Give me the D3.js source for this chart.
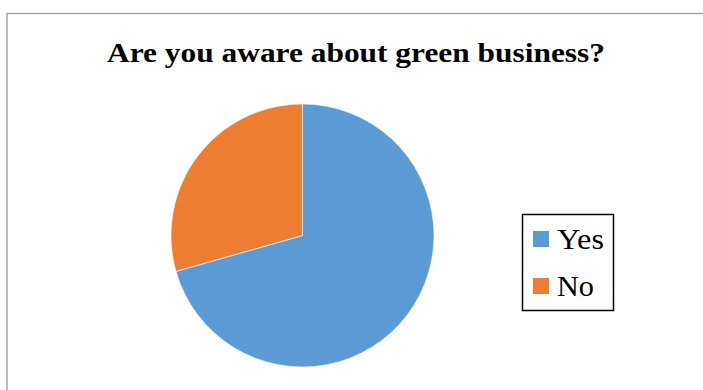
<!DOCTYPE html>
<html><head><meta charset="utf-8">
<script src="https://cdn.jsdelivr.net/npm/d3@7"></script>
<style>html,body{margin:0;padding:0;background:#fff;overflow:hidden}</style>
</head><body>
<svg id="c" width="703" height="390"></svg>
<script>
const categories = ["Yes", "No"];
const values = [70.6, 29.4];
const colors = ["#5B9BD5", "#ED7D31"];
const title = "Are you aware about green business?";

const svg = d3.select("#c");
// chart frame
svg.append("rect").attr("x", 7).attr("y", 13.5).attr("width", 710).attr("height", 400)
  .attr("fill", "#fff").attr("stroke", "#a6a6a6").attr("stroke-width", 1.5);

svg.append("text").attr("x", 107).attr("y", 62)
  .attr("font-family", "'Liberation Serif', 'Times New Roman', serif")
  .attr("font-weight", "bold").attr("font-size", 27).attr("fill", "#000")
  .attr("textLength", 498).attr("lengthAdjust", "spacingAndGlyphs")
  .text(title);

const data = categories.map((c, i) => ({cat: c, val: values[i], col: colors[i]}));
const pie = d3.pie().value(d => d.val).sort(null);
const arc = d3.arc().innerRadius(0).outerRadius(131.5);
const g = svg.append("g").attr("transform", "translate(302.5,235.5)");
g.selectAll("path").data(pie(data)).join("path")
  .attr("d", arc).attr("fill", d => d.data.col)
  .attr("stroke", "#fff").attr("stroke-width", 0.6);

// legend
const lg = svg.append("g");
lg.append("rect").attr("x", 522.5).attr("y", 214.5).attr("width", 91).attr("height", 96)
  .attr("fill", "#fff").attr("stroke", "#000").attr("stroke-width", 1.5);
const items = lg.selectAll("g.it").data(data).join("g").attr("class", "it")
  .attr("transform", (d, i) => `translate(0,${i * 47})`);
items.append("rect").attr("x", 533).attr("y", 231).attr("width", 16).attr("height", 16)
  .attr("fill", d => d.col);
items.append("text").attr("x", 557).attr("y", 249)
  .attr("font-family", "'Liberation Serif', 'Times New Roman', serif")
  .attr("font-size", 30).attr("fill", "#000")
  .attr("textLength", d => d.cat === "Yes" ? 47 : 37).attr("lengthAdjust", "spacingAndGlyphs")
  .text(d => d.cat);
</script>
</body></html>
